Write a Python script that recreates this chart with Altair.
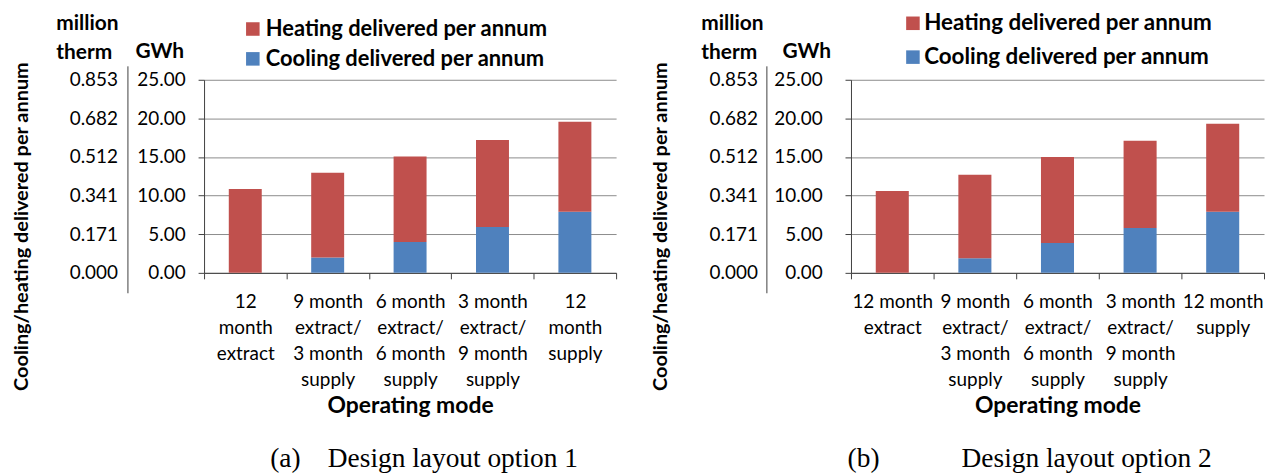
import altair as alt
import pandas as pd

# ---- data ----
modes_a = ["12|month|extract", "9 month|extract/|3 month|supply", "6 month|extract/|6 month|supply",
           "3 month|extract/|9 month|supply", "12|month|supply"]
modes_b = ["12 month|extract", "9 month|extract/|3 month|supply", "6 month|extract/|6 month|supply",
           "3 month|extract/|9 month|supply", "12 month|supply"]
cooling_a = [0.0, 2.0, 4.0, 5.95, 7.9]
heating_a = [10.85, 10.95, 11.05, 11.25, 11.65]
cooling_b = [0.0, 1.9, 3.85, 5.8, 7.9]
heating_b = [10.6, 10.8, 11.15, 11.3, 11.4]
gwh_ticks = [0, 5, 10, 15, 20, 25]
therm_ticks = [0.000, 0.171, 0.341, 0.512, 0.682, 0.853]
therm_per_gwh = 0.03412
series = ["Heating delivered per annum", "Cooling delivered per annum"]
colors = ["#C0504D", "#4F81BD"]
captions = ["(a)\u00a0\u00a0\u00a0\u00a0Design layout option 1",
            "(b)\u00a0\u00a0\u00a0\u00a0\u00a0\u00a0\u00a0\u00a0\u00a0\u00a0\u00a0\u00a0Design layout option 2"]

FONT = "Lato"
DARK = "#404040"
H = 194


def panel(modes, cool, heat, caption, w, p):
    rows = []
    for m, c, h in zip(modes, cool, heat):
        rows.append({"mode": m, "series": series[1], "value": c, "ord": 0})
        rows.append({"mode": m, "series": series[0], "value": h, "ord": 1})
    df = pd.DataFrame(rows)

    xenc = alt.X("mode:N", sort=modes, scale=alt.Scale(paddingInner=0, paddingOuter=0),
                 axis=alt.Axis(labelExpr="split(datum.label, '|')", labelAngle=0,
                               labelFont=FONT, labelFontSize=19, labelColor="black",
                               labelLineHeight=26, labelBaseline="top", labelPadding=p["xlp"],
                               labelOverlap=False, labelFlush=False, labelBound=False,
                               tickBand="extent", tickSize=6, tickColor=DARK,
                               domainColor=DARK, grid=False,
                               title="Operating mode", titleFont=FONT, titleFontSize=23,
                               titleFontWeight="bold", titleColor="black", titlePadding=p["xtp"]))

    base = alt.Chart(df)
    bars = base.mark_bar(width=alt.RelativeBandSize(0.4)).encode(
        x=xenc,
        y=alt.Y("value:Q", stack="zero", scale=alt.Scale(domain=[0, 25], nice=False),
                axis=alt.Axis(orient="left", values=gwh_ticks, format=".2f",
                              labelFont=FONT, labelFontSize=19, labelColor="black",
                              labelPadding=p["glp"], tickSize=6, tickColor=DARK,
                              domainColor=DARK, grid=True, gridColor="#8c8c8c",
                              title="GWh", titleAngle=0, titleFont=FONT, titleFontSize=21,
                              titleFontWeight="bold", titleColor="black", titleAlign="center",
                              titleBaseline="alphabetic", titleX=p["gtx"], titleY=-22)),
        color=alt.Color("series:N", scale=alt.Scale(domain=series, range=colors),
                        legend=alt.Legend(orient="none", legendX=p["lx"], legendY=p["ly"],
                                          title=None, symbolType="square", symbolSize=185,
                                          symbolStrokeWidth=0, labelFont=FONT,
                                          labelFontSize=p["lfs"],
                                          labelFontWeight="bold", labelColor="black",
                                          labelLimit=0, labelOffset=p["lo"], rowPadding=p["lrp"],
                                          padding=0)),
        order=alt.Order("ord:Q"),
    )

    # therm axis: domain stretched so its line runs a little past the plot, 0..0.853 still
    # landing on the same pixels as 0..25 GWh
    k = H / 0.853
    therm = base.transform_calculate(therm=f"datum.value * {therm_per_gwh}").mark_point(
        opacity=0).encode(
        x=alt.X("mode:N", sort=modes),
        y=alt.Y("therm:Q",
                scale=alt.Scale(domain=[-20 / k, 0.853 + 14 / k], range=[H + 20, -14], nice=False,
                                zero=False),
                axis=alt.Axis(orient="left", offset=p["toff"], values=therm_ticks, format=".3f",
                              labelFont=FONT, labelFontSize=19, labelColor="black",
                              ticks=False, labelPadding=p["tlp"], domainColor=DARK, grid=False,
                              title=["million", "therm"], titleAngle=0, titleFont=FONT,
                              titleFontSize=21, titleFontWeight="bold", titleColor="black",
                              titleAlign="left", titleBaseline="alphabetic",
                              titleLineHeight=30, titleX=p["ttx"], titleY=-51))
    )

    side = base.mark_point(opacity=0).encode(
        x=alt.X("mode:N", sort=modes),
        y=alt.Y("value:Q", scale=alt.Scale(domain=[0, 25]),
                axis=alt.Axis(orient="left", labels=False, ticks=False, domain=False, grid=False,
                              title="Cooling/heating delivered per annum", titleAngle=270,
                              titleFont=FONT, titleFontSize=20, titleFontWeight="bold",
                              titleColor="black", titleAlign="center", titleBaseline="middle",
                              titleX=p["stx"], titleY=147))
    )

    return alt.layer(bars, therm, side).resolve_scale(y="independent").properties(
        width=w, height=H,
        title=alt.TitleParams(caption, orient="bottom", anchor="middle", frame="group",
                              font="Liberation Serif", fontSize=27.5, fontWeight="normal",
                              color="black", offset=p["coff"], dx=p["cdx"]),
    )


pa = dict(xlp=14, xtp=5, glp=13, gtx=-45, lx=38, ly=-62, lrp=8, lfs=22, lo=2, toff=77, tlp=10,
          ttx=-72, stx=-183, coff=28, cdx=14)
pb = dict(xlp=14, xtp=5, glp=23, gtx=-45, lx=51, ly=-68, lrp=11, lfs=22.5, lo=0, toff=85, tlp=9,
          ttx=-66, stx=-191, coff=28, cdx=-28)

chart = alt.hconcat(
    panel(modes_a, cooling_a, heating_a, captions[0], 414, pa),
    panel(modes_b, cooling_b, heating_b, captions[1], 415, pb),
    spacing=34,
).resolve_scale(color="independent").properties(
    padding={"left": 4, "top": 3, "right": 0, "bottom": 0}
).configure_view(strokeWidth=0)

chart.save("out.html", embed_options={"renderer": "svg", "actions": False})
